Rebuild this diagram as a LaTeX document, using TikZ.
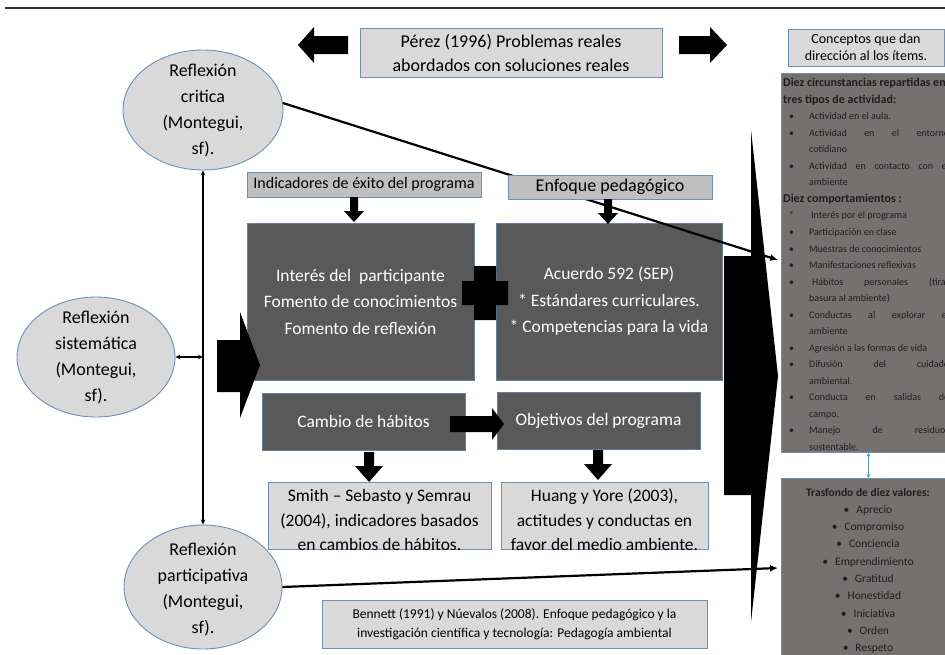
\documentclass[tikz,border=0pt]{standalone}
\usepackage{fontspec}
\setmainfont{Carlito}
\usetikzlibrary{arrows.meta,shapes.geometric}

\definecolor{lightfill}{HTML}{D9D9D9}
\definecolor{midfill}{HTML}{BFBFBF}
\definecolor{darkfill}{HTML}{595959}
\definecolor{listfill}{HTML}{767171}
\definecolor{edgeblue}{HTML}{6F8FB4}
\definecolor{listtext}{HTML}{1E1E1E}
\definecolor{linkblue}{HTML}{5B9BD5}
\definecolor{rulegray}{HTML}{303030}

% bullet cell and stretched (justified) line for the lists
\newcommand\lbul{\makebox[20pt][l]{•}}
\newcommand\jst[2]{\makebox[#1][s]{#2}}

\begin{document}
\begin{tikzpicture}[x=1pt,y=-1pt,
  lightbox/.style={draw=edgeblue, line width=0.9pt, fill=lightfill, inner sep=0pt, align=center},
  midbox/.style={lightbox, fill=midfill},
  darkbox/.style={draw=edgeblue!70!darkfill, line width=0.6pt, fill=darkfill, text=white,
    inner sep=0pt, align=center, font=\fontsize{17.5}{26.5}\selectfont},
  listbox/.style={draw=edgeblue, line width=0.7pt, fill=listfill, inner sep=0pt, anchor=north west},
  ellip/.style={ellipse, draw=edgeblue, line width=0.9pt, fill=lightfill, inner sep=0pt},
  elltext/.style={inner sep=0pt, align=center, font=\fontsize{18}{26}\selectfont},
  boxtext/.style={inner sep=0pt, align=center, font=\fontsize{17.5}{24.5}\selectfont},
  itemtxt/.style={anchor=base west, inner sep=0pt, text=listtext, font=\fontsize{10}{12}\selectfont},
  headtxt/.style={itemtxt, font=\fontsize{12}{14}\selectfont\bfseries},
  valtxt/.style={anchor=base, inner sep=0pt, text=listtext, font=\fontsize{11.5}{14}\selectfont},
  dbl/.style={line width=1.1pt, {Stealth[length=5pt,width=4.5pt]}-{Stealth[length=5pt,width=4.5pt]}},
  heavy/.style={line width=2.2pt, -{Latex[length=8pt,width=7pt]}},
  downsmall/.pic={\fill (-4,0) -- (4,0) -- (4,14) -- (10,14) -- (0,25) -- (-10,14) -- (-4,14) -- cycle;},
  downbig/.pic={\fill (-5,0) -- (5,0) -- (5,14) -- (14,14) -- (0,30) -- (-14,14) -- (-5,14) -- cycle;}
]
\useasboundingbox (0,0) rectangle (945,654);
\clip (0,0) rectangle (945,654);

% header rule
\draw[line width=1.2pt, rulegray] (5,8) -- (945,8);

% ---- top band: source box between two block arrows ----
\node[lightbox, minimum width=302, minimum height=49, font=\fontsize{18}{24}\selectfont]
  (perez) at (511,52.5) {Pérez (1996) Problemas reales\\abordados con soluciones reales};
\fill (298,45) -- (314,27) -- (314,36) -- (348,36) -- (348,54) -- (314,54) -- (314,63) -- cycle;
\fill (727,45) -- (710,27) -- (710,36) -- (679,36) -- (679,54) -- (710,54) -- (710,63) -- cycle;

\node[lightbox, minimum width=156, minimum height=37, font=\fontsize{14}{17}\selectfont]
  (concepts) at (866,47.5) {Conceptos que dan\\dirección al los ítems.};

% ---- right column: behaviours and values ----
\node[listbox, minimum width=174, minimum height=379] (dims) at (781,73) {};
\node[listbox, minimum width=174, minimum height=200] (vals) at (781,478) {};
\draw[linkblue, line width=0.8pt, {Stealth[length=4pt,width=4pt]}-{Stealth[length=4pt,width=4pt]}]
  (dims.south) -- (vals.north);

\begin{scope}
\clip (781,73) rectangle (945,452);
\node[headtxt] (d0) at (783,86.5) {Diez circunstancias repartidas en};
\node[headtxt] (d1) at (783,103.0) {tres tipos de actividad:};
\node[itemtxt] (d2) at (789,119.6) {\lbul Actividad en el aula.};
\node[itemtxt] (d3) at (789,136.1) {\lbul\jst{140pt}{Actividad en el entorno}};
\node[itemtxt] (d4) at (809,152.7) {cotidiano};
\node[itemtxt] (d5) at (789,169.2) {\lbul\jst{140pt}{Actividad en contacto con el}};
\node[itemtxt] (d6) at (809,185.8) {ambiente};
\node[headtxt] (d7) at (783,202.3) {Diez comportamientos :};
\node[itemtxt] (d8) at (789,218.9) {\makebox[22pt][l]{*}Interés por el programa};
\node[itemtxt] (d9) at (789,235.4) {\lbul Participación en clase};
\node[itemtxt] (d10) at (789,252.0) {\lbul Muestras de conocimientos};
\node[itemtxt] (d11) at (789,268.5) {\lbul Manifestaciones reflexivas};
\node[itemtxt] (d12) at (789,285.0) {\lbul\hspace{3pt}\jst{137pt}{Hábitos personales (tirar}};
\node[itemtxt] (d13) at (809,301.6) {basura al ambiente)};
\node[itemtxt] (d14) at (789,318.1) {\lbul\jst{140pt}{Conductas al explorar el}};
\node[itemtxt] (d15) at (809,334.7) {ambiente};
\node[itemtxt] (d16) at (789,351.2) {\lbul Agresión a las formas de vida};
\node[itemtxt] (d17) at (789,367.8) {\lbul\jst{140pt}{Difusión del cuidado}};
\node[itemtxt] (d18) at (809,384.3) {ambiental.};
\node[itemtxt] (d19) at (789,400.9) {\lbul\jst{140pt}{Conducta en salidas de}};
\node[itemtxt] (d20) at (809,417.4) {campo.};
\node[itemtxt] (d21) at (789,433.9) {\lbul\jst{140pt}{Manejo de residuos}};
\node[itemtxt] (d22) at (809,450.5) {sustentable.};
\end{scope}

\node[valtxt] (v0) at (868,496.0) {\bfseries Trasfondo de diez valores:};
\node[valtxt] (v1) at (868,513.3) {•\hspace{7pt}Aprecio};
\node[valtxt] (v2) at (868,530.6) {•\hspace{7pt}Compromiso};
\node[valtxt] (v3) at (868,547.9) {•\hspace{7pt}Conciencia};
\node[valtxt] (v4) at (868,565.2) {•\hspace{7pt}Emprendimiento};
\node[valtxt] (v5) at (868,582.5) {•\hspace{7pt}Gratitud};
\node[valtxt] (v6) at (868,599.8) {•\hspace{7pt}Honestidad};
\node[valtxt] (v7) at (868,617.1) {•\hspace{7pt}Iniciativa};
\node[valtxt] (v8) at (868,634.4) {•\hspace{7pt}Orden};
\node[valtxt] (v9) at (868,651.7) {•\hspace{7pt}Respeto};

% ---- three kinds of reflection ----
\node[ellip, minimum width=160, minimum height=120] (crit) at (203,110) {};
\node[elltext] (crittext) at (203,110.5) {Reflexión\\critica\\(Montegui,\\sf).};
\node[ellip, minimum width=158, minimum height=120] (sist) at (96,357) {};
\node[elltext] (sisttext) at (96,357.5) {Reflexión\\sistemática\\(Montegui,\\sf).};
\node[ellip, minimum width=158, minimum height=124] (part) at (203,587) {};
\node[elltext] (parttext) at (203,590) {Reflexión\\participativa\\(Montegui,\\sf).};

\coordinate (spine) at (203,357);
\draw[dbl] (crit.south) -- (part.north);
\draw[dbl] (sist.east) -- (spine);

% ---- central blocks ----
\node[midbox, minimum width=234, minimum height=25, font=\fontsize{16}{19}\selectfont]
  (indic) at (364,184.5) {Indicadores de éxito del programa};
\pic at (354,197) {downsmall};

\node[darkbox, minimum width=227, minimum height=157] (boxA) at (360.5,301.5)
  {Interés del~ participante\\Fomento de conocimientos\\Fomento de reflexión};
\node[darkbox, minimum width=226, minimum height=157] (boxB) at (609,301.5)
  {Acuerdo 592 (SEP)\\{*} Estándares curriculares.\\{*} Competencias para la vida};

% plus sign joining the two blocks
\fill (474,266) -- (496,266) -- (496,281) -- (508,281) -- (508,305) -- (496,305) -- (496,320)
  -- (474,320) -- (474,305) -- (462,305) -- (462,281) -- (474,281) -- cycle;

% large block arrow feeding the blocks
\fill (217,340) -- (240,340) -- (240,312) -- (260,365) -- (240,418) -- (240,392) -- (217,392) -- cycle;

% tall arrow towards the right column
\fill (724,256) -- (751,256) -- (751,130) -- (778,376) -- (751,622) -- (751,495) -- (724,495) -- cycle;

% critical reflection reaching the behaviours
\coordinate (tipA) at (778,260);
\draw[heavy] (crit.5) -- (tipA);

\node[midbox, minimum width=204, minimum height=24, font=\fontsize{18}{21}\selectfont]
  (enfoque) at (610,187) {Enfoque pedagógico};
\pic at (608,199) {downsmall};

\node[darkbox, minimum width=203, minimum height=57] (habit) at (363.5,421.5) {Cambio de hábitos};
\node[darkbox, minimum width=203, minimum height=57] (goals) at (598.5,420.5) {Objetivos del programa};
\fill (450,416) -- (492,416) -- (492,408) -- (504,424) -- (492,440) -- (492,432) -- (450,432) -- cycle;

\pic at (369,452) {downbig};
\pic at (598,450) {downbig};

\node[lightbox, minimum width=223, minimum height=67] (smith) at (379.5,515.5) {};
\node[boxtext] (smithtext) at (379.5,520) {Smith – Sebasto y Semrau\\(2004), indicadores basados\\en cambios de hábitos.};
\node[lightbox, minimum width=207, minimum height=67] (huang) at (604.5,515.5) {};
\node[boxtext] (huangtext) at (604.5,520) {Huang y Yore (2003),\\actitudes y conductas en\\favor del medio ambiente.};

% participative reflection reaching the values
\coordinate (tipB) at (778,568);
\draw[heavy] (part.east) -- (tipB);

\node[lightbox, minimum width=385, minimum height=48, font=\fontsize{13.5}{19}\selectfont]
  (bennett) at (514.5,624) {Bennett (1991) y Núevalos (2008). Enfoque pedagógico y la\\investigación científica y tecnología: Pedagogía ambiental};
\end{tikzpicture}
\end{document}
